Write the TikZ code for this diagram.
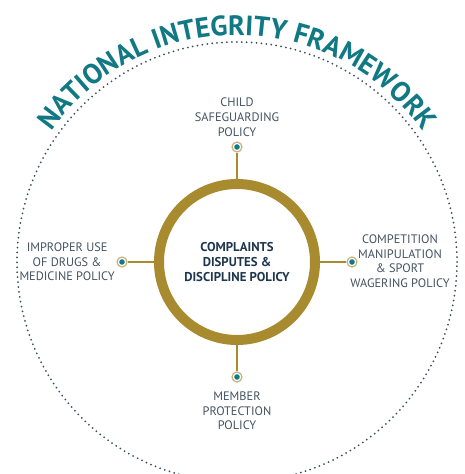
\documentclass[tikz,border=0pt]{standalone}
\usepackage{fontspec}
\setmainfont{PT Sans}
\usetikzlibrary{positioning, decorations.text}
\definecolor{nifteal}{HTML}{107983}
\definecolor{ringgold}{HTML}{A88B2F}
\definecolor{dotring}{HTML}{CBB27A}
\definecolor{dotteal}{HTML}{0E7C86}
\definecolor{policygrey}{HTML}{44525F}
\definecolor{corenavy}{HTML}{1E364D}
\definecolor{framegrey}{HTML}{3E4E5E}

\begin{document}
\begin{tikzpicture}[x=1pt, y=1pt,
    policy/.style={align=center, text=policygrey, inner sep=1pt, font=\fontsize{12.3}{14.6}\selectfont},
    policydot/.style={circle, draw=dotring, line width=1.2pt, fill=white, minimum size=10pt, inner sep=0pt,
        path picture={\fill[dotteal] (path picture bounding box.center) circle (2.8pt);}},
    spoke/.style={ringgold, line width=2pt}]
    \useasboundingbox (-237,-212) rectangle (228,262);
    % outer frame and its title
    \draw[framegrey, line width=2pt, line cap=round, dash pattern=on 0pt off 4.94pt] (0,0) circle (220);
    \path[decorate, decoration={text along path, text align=center, text color=nifteal,
        text={|\fontsize{28}{28}\selectfont\bfseries|NATIONAL INTEGRITY FRAMEWORK}}]
        (180:227) arc[start angle=180, end angle=0, radius=227];
    % core policy
    \node[circle, draw=ringgold, line width=10pt, minimum size=156pt, inner sep=0pt, align=center,
        text=corenavy, font=\fontsize{12.8}{14.6}\selectfont\bfseries] (core) at (0,0)
        {COMPLAINTS\\DISPUTES \&\\DISCIPLINE POLICY};
    % policy dots
    \node[policydot] (tdot) at (0,115) {};
    \node[policydot] (bdot) at (0,-115) {};
    \node[policydot] (ldot) at (-115,0) {};
    \node[policydot] (rdot) at (115,0) {};
    \draw[spoke] (tdot) -- (core);
    \draw[spoke] (bdot) -- (core);
    \draw[spoke] (ldot) -- (core);
    \draw[spoke] (rdot) -- (core);
    % policy labels
    \node[policy, above=4pt of tdot] (child) {CHILD\\SAFEGUARDING\\POLICY};
    \node[policy, below=8pt of bdot] (member) {MEMBER\\PROTECTION\\POLICY};
    \node[policy, left=0.5pt of ldot] (drugs) {IMPROPER USE\\OF DRUGS \&\\MEDICINE POLICY};
    \node[policy] (wager) at (163,1) {COMPETITION\\MANIPULATION\\\& SPORT\\WAGERING POLICY};
\end{tikzpicture}
\end{document}
